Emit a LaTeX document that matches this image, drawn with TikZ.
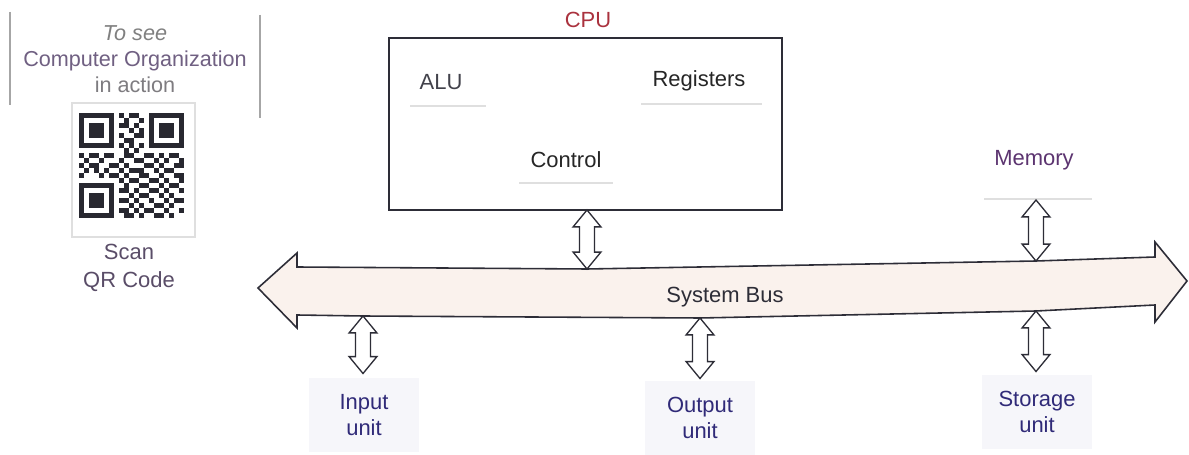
\documentclass[tikz,border=0pt]{standalone}
\usepackage{fontspec}
\setmainfont{Liberation Sans}
\usetikzlibrary{calc}

\definecolor{ink}{RGB}{45,45,55}
\definecolor{cpured}{RGB}{170,50,62}
\definecolor{memink}{RGB}{92,52,112}
\definecolor{unitink}{RGB}{48,42,120}
\definecolor{noteink}{RGB}{112,96,130}
\definecolor{busfill}{RGB}{250,242,237}
\definecolor{unitbg}{RGB}{246,246,250}
\definecolor{qrink}{RGB}{40,40,48}

% hollow two-headed arrow running from a top point down to a bottom point
\newcommand\biarrow[2]{%
  \draw[linkarrow] let \p1=(#1), \p2=(#2) in
    (\x1,\y1) -- ({\x1+7.9pt},{\y1-9.6pt}) -- ({\x1+4.3pt},{\y1-9.6pt})
    -- ({\x1+4.3pt},{\y2+9.6pt}) -- ({\x1+7.9pt},{\y2+9.6pt}) -- (\x1,\y2)
    -- ({\x1-7.9pt},{\y2+9.6pt}) -- ({\x1-4.3pt},{\y2+9.6pt})
    -- ({\x1-4.3pt},{\y1-9.6pt}) -- ({\x1-7.9pt},{\y1-9.6pt}) -- cycle;}

\begin{document}
\begin{tikzpicture}[x=0.02cm,y=-0.02cm,
  lbl/.style={font=\fontsize{12.5}{15}\selectfont, inner sep=0pt, outer sep=0pt},
  cpubox/.style={draw=ink, line width=0.8pt, minimum width=7.86cm,
    minimum height=3.44cm, inner sep=0pt, outer sep=0pt},
  unitbox/.style={lbl, fill=unitbg, align=center, text=unitink,
    minimum width=2.2cm, minimum height=1.5cm},
  faint/.style={draw=gray!25, line width=0.7pt},
  linkarrow/.style={draw=ink, line width=0.75pt, fill=white, line join=miter},
  busarrow/.style={draw=ink, line width=0.9pt, fill=busfill, line join=miter},
  qr/.style={fill=qrink}]

\useasboundingbox (0,0) rectangle (1189,455);
\fill[white] (0,0) rectangle (1189,455);

% ---- QR panel ----
\draw[gray!70, line width=0.6pt] (10,12) -- (10,105);
\draw[gray!70, line width=0.6pt] (260,15) -- (260,118);
\node[lbl, align=center, text=noteink, font=\fontsize{12.3}{14.8}\selectfont] (note) at (135,59)
  {\textcolor{gray}{\textit{To see}}\\Computer Organization\\\textcolor{gray!90!noteink}{in action}};
\draw[gray!25, line width=0.6pt] (72,103) rectangle (195,237);
\begin{scope}
  % finder patterns
  \foreach \fx/\fy in {79/113, 149/113, 79/183}{
    \fill[qr] (\fx,\fy) rectangle +(35,35);
    \fill[white] ({\fx+5},{\fy+5}) rectangle +(25,25);
    \fill[qr] ({\fx+10},{\fy+10}) rectangle +(15,15);
  }
  % data modules, row / columns
  \foreach \r/\cs in {0/{8,10,11}, 1/{9,12}, 2/{8,9,11}, 3/{10,12}, 4/{8,11,12},
      5/{9,10}, 6/{8,10,12}, 7/{9,11},
      8/{0,2,3,5,6,9,10,13,14,16,18,19},
      9/{1,4,8,11,12,15,17,20},
      10/{0,2,3,6,7,9,13,14,16,19,20},
      11/{1,3,5,8,10,11,12,15,17,18},
      12/{0,4,6,7,9,12,13,16,19,20},
      13/{8,10,11,14,15,17,20}, 14/{9,12,13,16,18,19},
      15/{8,9,11,14,15,17,20}, 16/{10,12,13,16,18},
      17/{8,9,11,14,17,19,20}, 18/{10,12,15,16,18},
      19/{8,9,11,13,14,17,20}, 20/{9,10,12,15,16,18}}{
    \foreach \c in \cs {\fill[qr] ({79+5*\c},{113+5*\r}) rectangle +(5,5);}
  }
\end{scope}
\node[lbl, align=center, text=noteink!80!black, font=\fontsize{12.5}{15.5}\selectfont] (scan) at (129,268)
  {Scan\\QR Code};

% ---- CPU ----
\node[lbl, anchor=base, text=cpured] (cpulbl) at (588,28) {CPU};
\node[cpubox] (cpu) at (585.5,124) {};
\draw[faint] (410,106) -- (486,106);
\draw[faint] (641,104) -- (762,104);
\draw[faint] (519,183) -- (613,183);
\node[lbl, anchor=base, text=ink!90] (alu) at (441,90) {ALU};
\node[lbl, anchor=base, text=black!85] (reg) at (699,87) {Registers};
\node[lbl, anchor=base, text=black!85] (ctrl) at (566,168) {Control};

% ---- Memory ----
\node[lbl, anchor=base, text=memink] (mem) at (1034,166) {Memory};
\draw[faint] (984,199) -- (1092,199);
\coordinate (memB) at (1036,200);

% ---- System bus ----
\draw[busarrow] (258,288) -- (297,253) -- (297,267) -- (587,269) -- (1036,261)
  -- (1155,257) -- (1155,242) -- (1187,281) -- (1155,322) -- (1155,305)
  -- (1036,311) -- (700,318) -- (363,316) -- (297,315) -- (297,328) -- cycle;
\node[lbl, anchor=base, text=ink] (buslbl) at (725,303) {System Bus};
\coordinate (busCPU) at (587,269);
\coordinate (busMem) at (1036,261);
\coordinate (busIn) at (363,316);
\coordinate (busOut) at (700,318);
\coordinate (busSto) at (1036,311);

% ---- I/O and storage units ----
\node[unitbox] (in) at (364,415) {Input\\unit};
\node[unitbox] (out) at (700,418) {Output\\unit};
\node[unitbox] (sto) at (1037,412) {Storage\\unit};

% ---- links to the bus ----
\biarrow{cpu.south -| busCPU}{busCPU}
\biarrow{memB}{busMem}
\biarrow{busIn}{$(in.north)+(0,-4)$}
\biarrow{busOut}{$(out.north)+(0,-2)$}
\biarrow{busSto}{$(sto.north)+(0,-3)$}
\end{tikzpicture}
\end{document}
